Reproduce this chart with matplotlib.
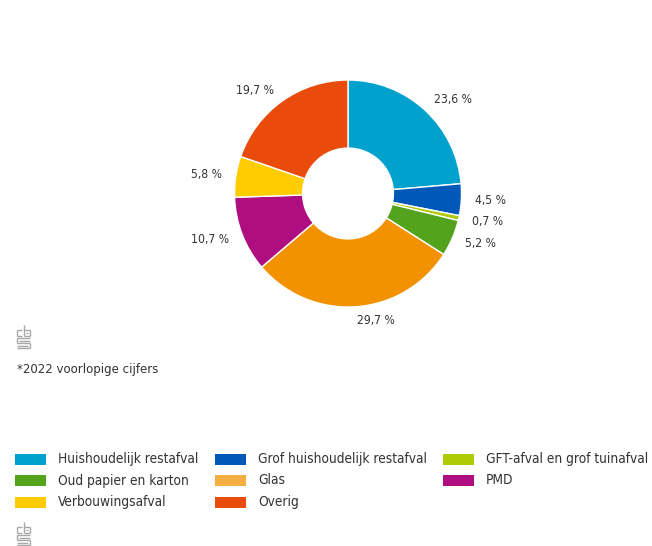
"""Donut chart: samenstelling huishoudelijk afval (2022*)."""
import matplotlib
matplotlib.use("Agg")
import matplotlib.pyplot as plt
from matplotlib.patches import Rectangle
from matplotlib import font_manager as fm
import numpy as np

categories = ["Huishoudelijk restafval", "Grof huishoudelijk restafval",
              "GFT-afval en grof tuinafval", "Oud papier en karton", "Glas",
              "PMD", "Verbouwingsafval", "Overig"]
values = [23.6, 4.5, 0.7, 5.2, 29.7, 10.7, 5.8, 19.7]
colors = ["#00a1cd", "#0058b8", "#afcb05", "#53a31d", "#f39200",
          "#af0e80", "#ffcc00", "#e94c0a"]
legend_colors = ["#00a1cd", "#0058b8", "#afcb05", "#53a31d", "#f5ae43",
                 "#af0e80", "#ffcc00", "#e94c0a"]
footnote = "*2022 voorlopige cijfers"

TXT = "#333333"
W, H = 652, 546

# pick a narrow font if there is one
names = {f.name for f in fm.fontManager.ttflist}
if "Liberation Sans Narrow" in names:
    FP = dict(family="Liberation Sans Narrow")
else:
    cond = fm.findfont(fm.FontProperties(family="DejaVu Sans",
                                         stretch="condensed"))
    if "Condensed" in cond:
        FP = dict(fname=cond)
    else:
        FP = dict(family="Liberation Sans")


def fprop(size):
    if "fname" in FP:
        return fm.FontProperties(fname=FP["fname"], size=size)
    return fm.FontProperties(family=FP["family"], size=size)


fig = plt.figure(figsize=(W / 100, H / 100), dpi=100)
renderer = fig.canvas.get_renderer()


def fit(s, target_px):
    # font size that makes the string about target_px wide
    t = fig.text(0, 0, s, fontproperties=fprop(10))
    w = t.get_window_extent(renderer).width
    t.remove()
    return 10 * target_px / w


size_lab = min(fit("23,6 %", 38), 10)
size_leg = min(fit("Huishoudelijk restafval", 145),
               fit("GFT-afval en grof tuinafval", 162), 12.5)
size_note = min(fit(footnote, 141), 11)

# pie axes: centre (348, 193), radius 113.5 px
cx, cy, r = 348, 193.5, 113.5
ax = fig.add_axes([(cx - r) / W, 1 - (cy + r) / H, 2 * r / W, 2 * r / H])
wedges, _ = ax.pie(values, colors=colors, startangle=90, counterclock=False,
                   radius=1, wedgeprops=dict(width=0.6, edgecolor="white",
                                             linewidth=1))
ax.set_xlim(-1, 1)
ax.set_ylim(-1, 1)
ax.set_aspect("equal")
ax.axis("off")

for w, v in zip(wedges, values):
    ang = np.deg2rad((w.theta1 + w.theta2) / 2)
    x, y = 1.12 * np.cos(ang), 1.12 * np.sin(ang)
    ha = "left" if x >= 0 else "right"
    ax.text(x, y, "{:.1f} %".format(v).replace(".", ","), ha=ha,
            va="center", color=TXT, fontproperties=fprop(size_lab),
            clip_on=False)

# overlay in pixel coordinates for legend, footnote and logo
ov = fig.add_axes([0, 0, 1, 1])
ov.set_xlim(0, W)
ov.set_ylim(H, 0)
ov.axis("off")
ov.patch.set_alpha(0)


def logo(x0, y0):
    # simplified cbs mark
    g = "#a8a8a8"
    segs = [
        [(x0, y0 + 5), (x0 + 5, y0 + 5)],
        [(x0, y0 + 5), (x0, y0 + 11)],
        [(x0, y0 + 11), (x0 + 5, y0 + 11)],
        [(x0 + 7, y0), (x0 + 7, y0 + 11)],
        [(x0 + 7, y0 + 11), (x0 + 13, y0 + 11)],
        [(x0 + 13, y0 + 11), (x0 + 13, y0 + 5)],
        [(x0 + 13, y0 + 5), (x0 + 7, y0 + 5)],
        [(x0 + 9, y0 + 7.5), (x0 + 11, y0 + 7.5)],
        [(x0, y0 + 13), (x0 + 13, y0 + 13)],
        [(x0, y0 + 13), (x0, y0 + 18)],
        [(x0, y0 + 18), (x0 + 13, y0 + 18)],
        [(x0 + 13, y0 + 18), (x0 + 13, y0 + 23)],
        [(x0 + 13, y0 + 23), (x0, y0 + 23)],
        [(x0 + 2, y0 + 15.5), (x0 + 13, y0 + 15.5)],
        [(x0, y0 + 20.5), (x0 + 11, y0 + 20.5)],
    ]
    for s in segs:
        (a, b), (c, d) = s
        ov.plot([a, c], [b, d], color=g, lw=1, solid_capstyle="butt")


logo(17, 325)
ov.text(17, 370, footnote, color=TXT, fontproperties=fprop(size_note),
        va="center", ha="left")

col_sw = [15, 215, 443]
col_tx = [58, 258, 486]
row_y = [459, 480.5, 502]
for i, (lab, c) in enumerate(zip(categories, legend_colors)):
    row, col = divmod(i, 3)
    ov.add_patch(Rectangle((col_sw[col], row_y[row] - 5.5), 31, 11,
                           facecolor=c, edgecolor="none"))
    ov.text(col_tx[col], row_y[row], lab, color=TXT,
            fontproperties=fprop(size_leg), va="center", ha="left")

logo(17, 522)

fig.savefig("out.png", dpi=100)
